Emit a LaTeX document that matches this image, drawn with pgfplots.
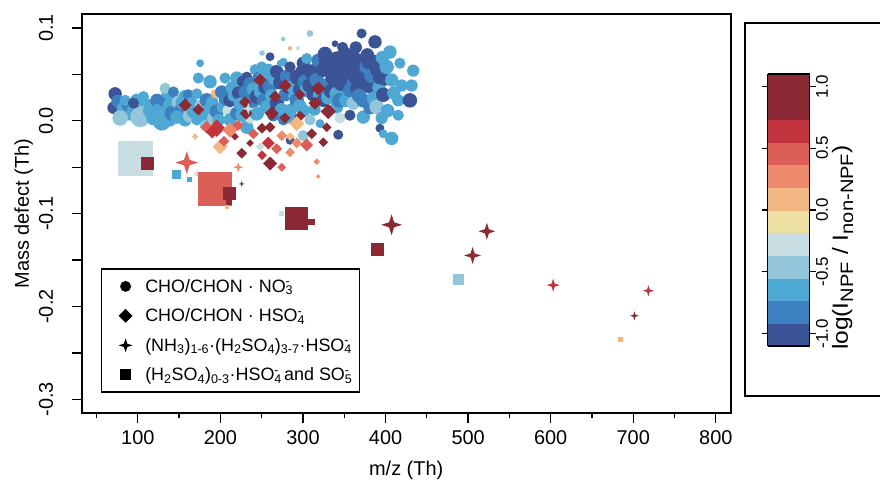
\documentclass[border=0pt]{standalone}
\usepackage{fontspec}
\setmainfont{Liberation Sans}
\usepackage{graphicx}
\usepackage{pgfplots}
\usepackage{pgfplotstable}
\pgfplotsset{compat=1.18}

% filled marks without outline
\pgfdeclareplotmark{dot}{\pgfpathcircle{\pgfpointorigin}{\pgfplotmarksize}\pgfusepathqfill}
\pgfdeclareplotmark{rhomb}{%
  \pgfpathmoveto{\pgfqpoint{0pt}{\pgfplotmarksize}}%
  \pgfpathlineto{\pgfqpoint{\pgfplotmarksize}{0pt}}%
  \pgfpathlineto{\pgfqpoint{0pt}{-\pgfplotmarksize}}%
  \pgfpathlineto{\pgfqpoint{-\pgfplotmarksize}{0pt}}%
  \pgfpathclose\pgfusepathqfill}
\pgfdeclareplotmark{sparkle}{%
  \pgfpathmoveto{\pgfqpoint{0pt}{\pgfplotmarksize}}%
  \pgfpathlineto{\pgfqpoint{0.24\pgfplotmarksize}{0.24\pgfplotmarksize}}%
  \pgfpathlineto{\pgfqpoint{\pgfplotmarksize}{0pt}}%
  \pgfpathlineto{\pgfqpoint{0.24\pgfplotmarksize}{-0.24\pgfplotmarksize}}%
  \pgfpathlineto{\pgfqpoint{0pt}{-\pgfplotmarksize}}%
  \pgfpathlineto{\pgfqpoint{-0.24\pgfplotmarksize}{-0.24\pgfplotmarksize}}%
  \pgfpathlineto{\pgfqpoint{-\pgfplotmarksize}{0pt}}%
  \pgfpathlineto{\pgfqpoint{-0.24\pgfplotmarksize}{0.24\pgfplotmarksize}}%
  \pgfpathclose\pgfusepathqfill}
\pgfdeclareplotmark{sqr}{%
  \pgfpathrectangle{\pgfqpoint{-\pgfplotmarksize}{-\pgfplotmarksize}}{\pgfqpoint{2\pgfplotmarksize}{2\pgfplotmarksize}}%
  \pgfusepathqfill}

\pgfplotsset{
  /pgf/number format/assume math mode=true,
  bubble/.style={scatter, only marks, forget plot, point meta=explicit,
    scatter/use mapped color={draw=mapped color, fill=mapped color},
    visualization depends on={#1*\thisrow{s} \as \msz},
    scatter/@pre marker code/.append style={/tikz/mark size=\msz}},
  bubble/.default=0.5,
}

% mz = m/z, md = mass defect, c = log ratio, s = marker size
\pgfplotstableread{
mz md c s
72.5 0.029 -1.0 12
70.5 0.014 -1.0 11
76.0 0.021 -0.8 12
82.6 0.013 -0.6 12
98.8 0.022 -0.6 12
90.7 0.008 -0.6 13
88.0 0.017 -0.8 11
95.0 0.011 -0.6 13
78.6 0.003 -0.4 14
84.6 0.022 -0.6 10
94.7 0.019 -1.0 10
106.8 0.026 -0.6 10
110.0 0.018 -0.6 11
108.0 0.008 -0.4 14
102.8 0.004 -0.4 18
114.9 0.011 -0.6 13
120.0 0.016 -0.6 12
123.0 0.022 -0.8 12
126.0 0.012 -0.6 12
131.0 0.022 -0.8 11
118.9 0.003 -0.6 13
129.0 -0.001 -0.6 16
138.0 0.002 -0.6 14
135.1 0.029 -0.6 10
138.0 0.017 -0.6 11
133.0 0.035 -0.4 10
141.1 0.008 -0.8 13
144.0 0.022 -0.6 12
143.1 0.031 -0.8 10
149.1 0.020 -0.4 12
152.0 0.013 -0.8 11
154.0 0.020 -0.6 12
147.2 0.004 -0.6 12
157.2 0.026 -0.6 12
157.2 0.001 -0.6 12
161.0 0.028 -0.8 10
165.0 0.019 -0.6 11
163.3 0.006 -0.4 13
168.0 0.010 -0.6 13
171.4 0.029 -0.6 10
176.0 0.016 -0.4 11
171.4 0.001 -0.6 10
173.3 0.046 -0.6 10
175.4 0.062 -0.6 7
179.4 0.006 -0.6 13
181.4 -0.005 -0.4 10
183.5 0.022 -0.8 13
186.0 0.011 -0.6 12
190.0 0.020 -0.6 11
192.0 0.003 -0.4 12
187.5 0.042 -0.6 12
193.5 0.029 0.0 8
195.6 0.010 -0.8 13
198.0 0.001 -0.6 11
201.6 0.031 -0.8 12
203.6 0.015 -0.6 12
206.0 0.024 -0.8 12
205.6 0.046 -0.6 10
209.0 0.011 -0.2 10
211.7 0.022 -1.0 12
211.7 0.001 -0.6 12
214.0 0.036 -0.6 11
216.0 0.027 -0.6 11
219.8 0.046 -0.6 12
219.8 0.008 -0.8 12
222.0 0.030 -1.0 12
224.0 0.018 -0.6 12
226.0 0.006 -0.6 12
227.4 0.042 -1.0 11
229.8 0.031 -0.8 12
231.9 -0.007 -0.6 12
231.9 0.047 -1.0 10
235.9 0.040 -0.8 12
235.9 0.003 -0.2 10
238.0 0.019 -0.8 12
240.0 0.034 -0.6 12
242.0 0.055 -0.6 10
244.0 0.026 -1.0 13
244.0 0.008 -0.6 13
246.0 0.046 -0.8 11
248.0 0.031 -0.6 11
250.0 0.058 -0.6 10
250.4 0.073 -0.4 5
252.0 0.047 -0.6 12
252.0 0.022 -0.8 12
254.0 0.036 -1.0 12
256.1 0.015 -0.6 12
257.7 0.044 -0.6 12
258.0 0.055 -0.6 11
260.1 0.069 -1.0 8
260.1 0.037 -0.8 13
262.0 0.027 -0.6 12
264.0 0.006 -0.8 11
266.0 0.045 -0.6 12
268.2 0.053 -1.0 12
268.2 0.019 -1.0 13
272.0 0.041 -1.0 12
272.2 0.062 -0.6 6
274.0 0.012 -0.6 12
276.0 0.088 -0.4 4
276.2 0.063 -0.6 8
276.2 0.001 -0.8 10
278.3 0.028 -0.8 12
280.0 0.048 -0.8 12
282.0 0.036 -1.0 12
284.3 0.058 -1.0 10
284.3 0.011 -0.6 12
284.3 -0.021 -1.0 8
284.3 0.078 0.0 4
288.0 0.002 -0.6 11
288.3 0.037 -0.6 13
290.0 0.027 -0.6 12
292.4 0.047 -1.0 13
292.4 0.022 -0.8 13
294.0 0.078 -0.2 4
296.0 0.034 -1.0 12
296.0 0.016 -0.6 12
298.0 0.052 -1.0 12
300.4 0.062 -1.0 12
300.4 0.011 -0.6 12
300.4 -0.016 -0.4 10
302.0 0.042 -0.8 13
304.5 0.067 -0.6 10
304.5 0.033 -0.6 13
308.5 0.094 -0.4 6
308.5 0.001 -0.4 10
308.0 0.038 -1.0 13
310.0 0.053 -1.0 13
312.2 0.028 -1.0 12
314.0 0.012 -0.6 11
316.0 0.054 -1.0 13
316.6 0.044 -0.8 13
318.2 0.065 -0.8 12
320.0 0.027 -0.6 12
320.6 -0.003 -0.6 8
322.0 0.035 -0.8 13
324.6 0.055 -1.0 13
324.6 0.022 -1.0 12
326.6 0.072 -1.0 13
328.0 0.064 -1.0 13
330.0 0.025 -0.6 12
332.7 0.040 -0.8 13
332.7 0.060 -1.0 13
334.0 0.032 -1.0 13
336.0 0.046 -1.0 13
338.0 0.056 -1.0 14
338.8 0.083 -1.0 6
340.8 0.067 -1.0 13
340.8 0.029 -0.6 13
340.8 0.015 -0.6 12
342.7 -0.015 -1.0 9
344.0 0.022 -0.8 13
344.8 0.003 -0.2 10
346.0 0.040 -1.0 13
348.0 0.079 -1.0 10
348.8 0.051 -1.0 13
350.9 0.071 -1.0 14
352.0 0.022 -0.6 12
352.0 0.044 -1.0 14
354.0 0.057 -1.0 14
356.9 0.063 -1.0 15
356.9 0.033 -0.8 13
356.9 0.006 -1.0 10
360.0 0.070 -1.0 13
360.9 0.019 -0.4 12
362.0 0.040 -0.8 14
362.0 0.056 -1.0 14
364.0 0.079 -1.0 11
365.0 0.047 -1.0 15
366.6 0.035 -1.0 14
368.0 0.027 -0.8 13
370.0 0.054 -1.0 14
371.0 0.094 -1.0 9
373.0 0.065 -1.0 13
373.0 0.022 -0.8 13
373.0 0.004 -0.6 12
376.0 0.043 -1.0 13
377.1 0.058 -0.8 13
378.0 0.071 -1.0 12
380.0 0.063 -1.0 13
381.1 0.037 -1.0 13
381.1 0.014 -0.8 12
383.5 0.049 -0.8 14
386.0 0.024 -0.6 13
387.2 0.085 -1.0 12
387.2 0.062 -1.0 15
389.2 0.015 -0.4 13
390.0 0.055 -1.0 13
392.0 0.036 -0.6 12
393.2 -0.008 -1.0 8
393.2 0.047 -1.0 13
395.3 0.003 -0.6 11
396.0 0.068 -0.6 12
397.2 0.028 -1.0 13
397.2 -0.014 -0.6 8
399.0 0.045 -1.0 12
401.3 0.058 -0.6 13
402.6 0.011 -0.6 12
405.3 0.074 -0.6 12
407.4 0.044 -0.6 12
407.4 -0.019 -0.6 12
410.0 0.030 -0.6 12
415.4 0.022 -0.6 11
415.4 0.006 -0.6 10
417.4 0.062 -0.6 10
419.5 0.038 -0.6 11
429.5 0.022 -1.0 13
431.6 0.038 -0.6 11
433.5 0.054 -0.6 11
}\circdata

\pgfplotstableread{
mz md c s
248.0 0.044 1.0 12
278.3 0.038 1.0 12
318.5 0.035 1.0 13
314.6 0.019 1.0 12
330.6 0.010 1.0 14
262.2 0.008 1.0 13
266.1 0.026 1.0 11
229.8 0.020 1.0 11
231.1 0.008 1.0 12
157.2 0.017 0.8 12
173.3 0.012 1.0 11
278.3 0.003 0.8 10
296.4 0.005 0.8 10
296.4 0.028 0.8 10
250.4 -0.008 1.0 10
195.6 -0.008 0.6 16
211.7 -0.010 0.2 14
183.5 -0.007 0.4 12
190.0 -0.012 0.6 12
199.6 -0.028 0.0 14
169.3 -0.017 0.0 6
217.7 -0.017 0.8 7
221.4 -0.005 0.4 10
204.4 -0.022 0.4 10
225.9 -0.035 1.0 10
235.9 -0.024 0.8 7
239.9 -0.014 0.4 10
260.1 -0.007 0.8 10
258.0 -0.024 0.6 12
250.4 -0.037 0.6 9
248.0 -0.028 -0.2 8
274.3 -0.016 0.2 10
268.2 -0.030 0.4 10
260.1 -0.046 0.8 13
274.3 -0.050 0.4 8
292.4 -0.003 0.0 14
292.4 -0.024 0.2 10
284.3 -0.017 0.0 8
284.3 -0.034 0.2 9
304.5 -0.026 0.4 12
310.6 -0.014 0.8 10
324.6 -0.023 0.8 9
328.7 -0.007 0.8 9
316.6 -0.044 0.2 6
318.5 -0.060 0.2 4
171.4 -0.057 -0.2 6
}\rhombdata

\pgfplotstableread{
mz md c s
159.3 -0.045 0.4 23
233.8 0.013 -0.2 12
225.8 -0.068 1.0 6
221.7 -0.050 0.2 10
407.3 -0.112 1.0 21
522.7 -0.119 1.0 17
505.4 -0.145 1.0 17
603.0 -0.177 0.6 13
718.3 -0.183 0.6 11
701.4 -0.210 0.8 9
}\stardata

\pgfplotstableread{
mz md c s
96.7 -0.041 -0.2 35
112.1 -0.046 1.0 13
146.3 -0.058 -0.6 9
162.0 -0.063 -0.6 5
193.9 -0.073 0.4 34
210.5 -0.078 1.0 13
210.5 -0.087 1.0 6
207.7 -0.093 0.0 4
274.0 -0.100 -0.2 5
291.6 -0.105 0.8 23
309.8 -0.109 1.0 7
390.4 -0.139 1.0 13
488.4 -0.171 -0.4 11
684.8 -0.236 0.0 5
}\sqrdata

\begin{document}
\begin{tikzpicture}
\begin{axis}[
  name=main,
  scale only axis, width=649bp, height=399.3bp,
  xmin=32, xmax=818, ymin=-0.315, ymax=0.115,
  axis line style={line width=2bp},
  tick align=outside, tick pos=left,
  xtick={100,200,...,800}, minor xtick={50,150,...,750},
  ytick={-0.3,-0.2,-0.1,0,0.1},
  extra y ticks={-0.25,-0.15,-0.05,0.05}, extra y tick labels={},
  major tick length=10bp, minor tick length=5bp,
  every tick/.style={black, line width=1.3bp},
  tick label style={font=\fontsize{20}{24}\selectfont},
  yticklabel style={rotate=90, anchor=south, yshift=15bp,
    /pgf/number format/.cd, fixed, fixed zerofill, precision=1},
  xticklabel style={yshift=-4bp, /pgf/number format/set thousands separator={}},
  xlabel={m/z (Th)}, ylabel={Mass defect (Th)},
  xlabel style={at={(axis description cs:0.5,0)}, anchor=center, yshift=-57bp,
    font=\fontsize{20}{24}\selectfont},
  ylabel style={at={(axis description cs:0,0.5)}, anchor=center, yshift=58bp,
    font=\fontsize{20}{24}\selectfont},
  colormap={npf}{rgb255=(58,84,150) rgb255=(60,128,191) rgb255=(79,167,211)
    rgb255=(147,198,218) rgb255=(201,222,227) rgb255=(237,224,163)
    rgb255=(243,183,132) rgb255=(236,138,107) rgb255=(219,95,87)
    rgb255=(193,53,62) rgb255=(139,42,53) rgb255=(139,42,53)},
  colormap access=piecewise constant,
  point meta min=-1.1, point meta max=1.1,
  colorbar,
  colorbar style={
    at={(parent axis.south west)}, anchor=south west,
    xshift=677.3bp, yshift=67.3bp,
    scale only axis, width=42bp, height=272bp,
    xlabel={}, ylabel={},
    ytick={-1,-0.5,0,0.5,1}, yticklabel pos=right,
    tick align=outside, major tick length=6bp,
    every tick/.style={black, line width=1.3bp},
    axis line style={line width=1.3bp},
    yticklabel style={rotate=90, anchor=north, yshift=3bp,
      font=\fontsize{17}{20}\selectfont,
      /pgf/number format/.cd, fixed, fixed zerofill, precision=1},
  },
  legend image code/.code={\path (0cm,0cm) (1.15cm,0cm); \draw[#1] plot coordinates {(0.55cm,0cm)};},
  legend style={at={(axis description cs:0.0293,0.0516)}, anchor=south west,
    draw=black, line width=1.3bp, font=\fontsize{18}{21}\selectfont,
    inner xsep=8bp, inner ysep=8bp, row sep=11bp},
  legend cell align=left,
]
\addplot[bubble=0.56, mark=dot] table[x=mz, y=md, meta=c] {\circdata};
\addplot[bubble=0.54, mark=rhomb] table[x=mz, y=md, meta=c] {\rhombdata};
\addplot[bubble, mark=sqr] table[x=mz, y=md, meta=c] {\sqrdata};
\addplot[bubble, mark=sparkle] table[x=mz, y=md, meta=c] {\stardata};

\addlegendimage{mark=dot, mark size=5.5, black}
\addlegendentry{CHO/CHON · NO\rlap{\textsubscript{3}}\textsuperscript{-}}
\addlegendimage{mark=rhomb, mark size=7, black}
\addlegendentry{CHO/CHON · HSO\rlap{\textsubscript{4}}\textsuperscript{-}}
\addlegendimage{mark=sparkle, mark size=7, black}
\addlegendentry{(NH\textsubscript{3})\textsubscript{1-6}·(H\textsubscript{2}SO\textsubscript{4})\textsubscript{3-7}·HSO\rlap{\textsubscript{4}}\textsuperscript{-}}
\addlegendimage{mark=sqr, mark size=5.5, black}
\addlegendentry{(H\textsubscript{2}SO\textsubscript{4})\textsubscript{0-3}·HSO\rlap{\textsubscript{4}}\textsuperscript{-} and SO\rlap{\textsubscript{5}}\textsuperscript{-}}
\end{axis}

% colour bar label and frame
\node[rotate=90, font=\fontsize{22}{26}\selectfont] at ([xshift=761bp,yshift=165.8bp]main.south west)
  {\scalebox{1.12}[1]{log(I\textsubscript{\fontsize{18}{20}\selectfont NPF} / I\textsubscript{\fontsize{18}{20}\selectfont non-NPF})}};
\draw[line width=2bp] ([xshift=663.3bp,yshift=17.3bp]main.south west) rectangle ([xshift=900bp,yshift=390.6bp]main.south west);

\pgfresetboundingbox
\path[use as bounding box] ([xshift=-81.7bp,yshift=-75.7bp]main.south west) rectangle ([xshift=798.3bp,yshift=413.3bp]main.south west);
\end{tikzpicture}
\end{document}
